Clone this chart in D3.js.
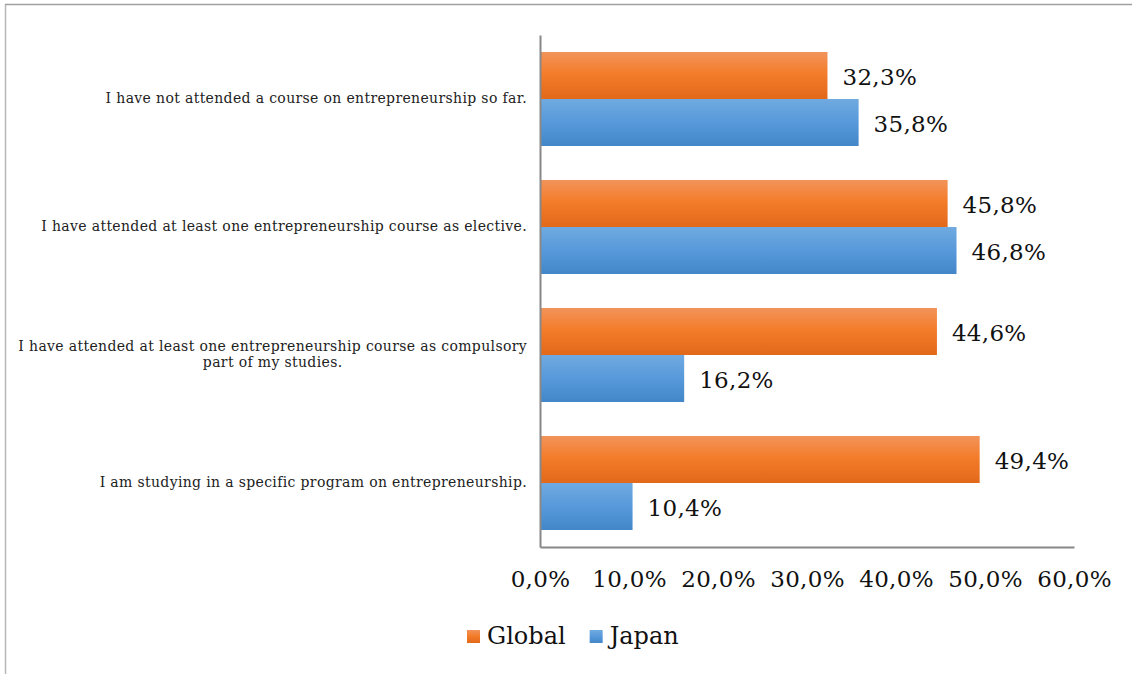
<!DOCTYPE html>
<html>
<head>
<meta charset="utf-8">
<script src="https://cdn.jsdelivr.net/npm/d3@7"></script>
<style>
  html, body { margin: 0; padding: 0; background: #fff; }
  svg { display: block; font-family: "DejaVu Serif", "Liberation Serif", serif; }
</style>
</head>
<body>
<svg id="chart" width="1132" height="674"></svg>
<script>
// Survey answers on entrepreneurship courses, Global vs Japan (share of respondents, %)
const categories = [
  "I have not attended a course on entrepreneurship so far.",
  "I have attended at least one entrepreneurship course as elective.",
  "I have attended at least one entrepreneurship course as compulsory part of my studies.",
  "I am studying in a specific program on entrepreneurship."
];
const seriesNames = ["Global", "Japan"];
const globalValues = [32.3, 45.8, 44.6, 49.4];
const japanValues = [35.8, 46.8, 16.2, 10.4];
const tickValues = [0, 10, 20, 30, 40, 50, 60];

const svg = d3.select("#chart");
const fmt = v => d3.format(".1f")(v).replace(".", ",") + "%";

// outer frame of the chart area
svg.append("line").attr("x1", 5.5).attr("x2", 5.5).attr("y1", 4).attr("y2", 674)
  .attr("stroke", "#b8b8b8").attr("stroke-width", 1.5);
svg.append("line").attr("x1", 5).attr("x2", 1132).attr("y1", 4.5).attr("y2", 4.5)
  .attr("stroke", "#a0a0a0").attr("stroke-width", 1.5);

const plotLeft = 540, plotRight = 1074, plotTop = 35, plotBottom = 547;

const x = d3.scaleLinear().domain([0, 60]).range([plotLeft, plotRight]);
const y = d3.scaleBand().domain(categories).range([plotTop, plotBottom])
  .paddingInner(34 / 128).paddingOuter(17 / 128);
const ySub = d3.scaleBand().domain(seriesNames).range([0, y.bandwidth()]);

// bar gradients
const defs = svg.append("defs");
const gradients = {
  Global: [["0%", "#f2935a"], ["45%", "#f37d2b"], ["100%", "#e2681a"]],
  Japan: [["0%", "#70aae0"], ["50%", "#5799db"], ["100%", "#4387c9"]]
};
Object.entries(gradients).forEach(([name, stops]) => {
  const g = defs.append("linearGradient").attr("id", "grad-" + name)
    .attr("x1", 0).attr("x2", 0).attr("y1", 0).attr("y2", 1);
  stops.forEach(([o, c]) => g.append("stop").attr("offset", o).attr("stop-color", c));
});

const rows = categories.map((c, i) => ({
  category: c,
  values: [
    { series: "Global", value: globalValues[i] },
    { series: "Japan", value: japanValues[i] }
  ]
}));

const groups = svg.append("g").selectAll("g").data(rows).join("g")
  .attr("transform", d => `translate(0,${y(d.category)})`);

groups.selectAll("rect").data(d => d.values).join("rect")
  .attr("x", x(0) + 1)
  .attr("y", d => ySub(d.series))
  .attr("width", d => x(d.value) - x(0) - 1)
  .attr("height", ySub.bandwidth())
  .attr("fill", d => `url(#grad-${d.series})`);

groups.selectAll("text.value").data(d => d.values).join("text")
  .attr("class", "value")
  .attr("x", d => x(d.value) + 15)
  .attr("y", d => ySub(d.series) + ySub.bandwidth() / 2 + 3)
  .attr("dominant-baseline", "middle")
  .attr("font-size", 23)
  .attr("letter-spacing", 0.3)
  .attr("fill", "#111")
  .text(d => fmt(d.value));

// category labels, wrapped to the label column
const labelRight = 527, labelWidth = 515;
groups.append("text")
  .attr("font-size", 14)
  .attr("letter-spacing", 0.35)
  .attr("fill", "#222")
  .attr("text-anchor", "middle")
  .each(function (d) {
    const t = d3.select(this);
    const words = d.category.split(" ");
    const lines = [];
    let line = [];
    const probe = t.append("tspan");
    words.forEach(w => {
      line.push(w);
      probe.text(line.join(" "));
      if (probe.node().getComputedTextLength() > labelWidth && line.length > 1) {
        line.pop();
        lines.push(line.join(" "));
        line = [w];
      }
    });
    lines.push(line.join(" "));
    probe.remove();
    const cy = y.bandwidth() / 2;
    const lh = 16;
    lines.forEach((l, k) => {
      t.append("tspan").attr("x", 0).attr("y", cy + (k - (lines.length - 1) / 2) * lh)
        .attr("dominant-baseline", "middle").text(l);
    });
    // single lines sit flush right; wrapped lines are centred under the widest one
    const widths = [];
    t.selectAll("tspan").each(function () { widths.push(this.getComputedTextLength()); });
    const maxW = d3.max(widths);
    t.selectAll("tspan").attr("x", labelRight - maxW / 2);
  });

// axes
const yAxis = d3.axisLeft(y).tickSize(0).tickFormat("");
svg.append("g").attr("transform", `translate(${plotLeft},0)`).call(yAxis)
  .call(g => g.select(".domain").attr("stroke", "#888").attr("stroke-width", 2));

const xAxis = d3.axisBottom(x).tickValues(tickValues).tickSize(0).tickPadding(24)
  .tickFormat(v => fmt(v));
svg.append("g").attr("transform", `translate(0,${plotBottom})`).call(xAxis)
  .call(g => g.select(".domain").attr("stroke", "#888").attr("stroke-width", 2))
  .call(g => g.selectAll("text").attr("font-size", 23).attr("letter-spacing", 0.3)
    .attr("fill", "#111").attr("font-family", "DejaVu Serif, Liberation Serif, serif"));

// legend
const legend = svg.append("g").attr("transform", "translate(467,637)");
let lx = 0;
seriesNames.forEach(name => {
  const item = legend.append("g").attr("transform", `translate(${lx},0)`);
  item.append("rect").attr("x", 0).attr("y", -7).attr("width", 13).attr("height", 13)
    .attr("fill", `url(#grad-${name})`);
  const txt = item.append("text").attr("x", 20).attr("y", 0).attr("dominant-baseline", "middle")
    .attr("font-size", 24).attr("fill", "#111").text(name);
  lx += 20 + txt.node().getComputedTextLength() + 24;
});
</script>
</body>
</html>
